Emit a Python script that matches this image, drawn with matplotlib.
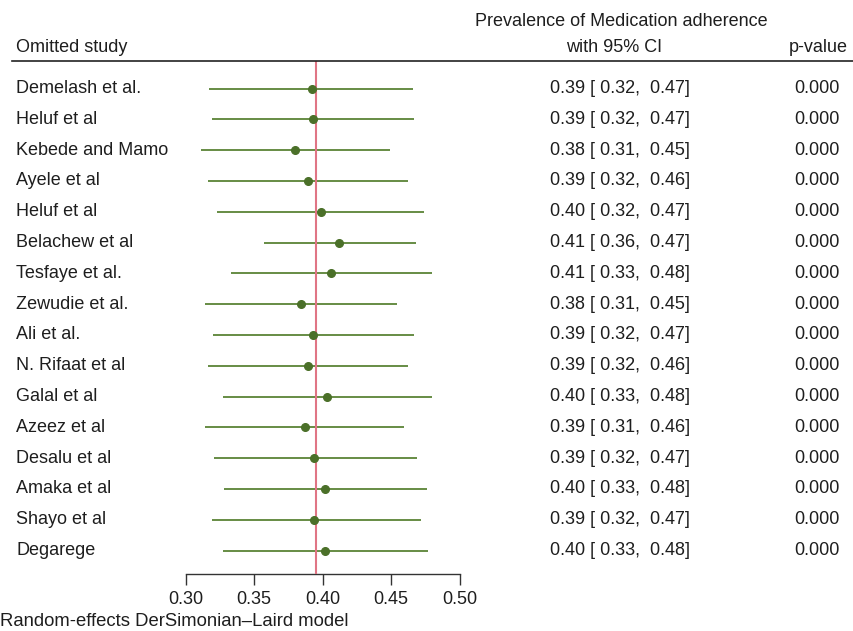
import matplotlib
matplotlib.use("Agg")
import matplotlib.pyplot as plt
import matplotlib.transforms as mtransforms
from matplotlib.lines import Line2D

plt.rcParams['font.family'] = ['Liberation Sans', 'DejaVu Sans']

# leave-one-out estimates
studies = ["Demelash et al.", "Heluf et al", "Kebede and Mamo", "Ayele et al",
           "Heluf et al", "Belachew et al", "Tesfaye et al.", "Zewudie et al.",
           "Ali et al.", "N. Rifaat et al", "Galal et al", "Azeez et al",
           "Desalu et al", "Amaka et al", "Shayo et al", "Degarege"]
est = [0.392, 0.393, 0.380, 0.389, 0.399, 0.412, 0.406, 0.384,
       0.393, 0.389, 0.403, 0.387, 0.394, 0.402, 0.394, 0.402]
lo = [0.317, 0.319, 0.311, 0.316, 0.323, 0.357, 0.333, 0.314,
      0.320, 0.316, 0.327, 0.314, 0.321, 0.328, 0.319, 0.327]
hi = [0.466, 0.467, 0.449, 0.462, 0.474, 0.468, 0.480, 0.454,
      0.467, 0.462, 0.480, 0.459, 0.469, 0.476, 0.472, 0.477]
pvals = [0.000] * 16
overall = 0.395
xticks = [0.30, 0.35, 0.40, 0.45, 0.50]

W, H = 854, 631
fig = plt.figure(figsize=(W / 100, H / 100), dpi=100)
fig.patch.set_facecolor("white")

def fx(px):
    return px / W

def fy(py):
    return 1 - py / H

row0, step = 88.5, 30.8
top_px, bot_px = 61, 574
ax = fig.add_axes([fx(185.7), fy(bot_px), fx(459.7) - fx(185.7), fy(top_px) - fy(bot_px)])
ax.set_xlim(0.30, 0.50)
ax.set_ylim((bot_px - row0) / step, (top_px - row0) / step)

line_c = "#5a8436"
dot_c = "#4b7029"
red_c = "#e07585"
txt_c = "#1e1e1e"
fs = 13

rows = list(range(len(studies)))
ax.hlines(rows, lo, hi, color=line_c, lw=1.3, zorder=2)
ax.axvline(overall, color=red_c, lw=1.5, zorder=3)
ax.plot(est, rows, "o", color=dot_c, ms=5.5, zorder=4)

for s in ["top", "right", "left"]:
    ax.spines[s].set_visible(False)
ax.spines["bottom"].set_color("#333333")
ax.spines["bottom"].set_linewidth(1.0)
ax.set_yticks([])
ax.set_xticks(xticks)
ax.set_xticklabels([f"{t:.2f}" for t in xticks], fontsize=fs, color=txt_c)
ax.tick_params(axis="x", direction="out", length=8, width=1, color="#333333", pad=4)

tr = mtransforms.blended_transform_factory(fig.transFigure, ax.transData)
for i, name in enumerate(studies):
    ax.text(fx(16), i, name, transform=tr, ha="left", va="center", fontsize=fs, color=txt_c)
    ax.text(fx(690), i, f"{est[i]:.2f} [ {lo[i]:.2f},  {hi[i]:.2f}]", transform=tr,
            ha="right", va="center", fontsize=fs, color=txt_c)
    ax.text(fx(840), i, f"{pvals[i]:.3f}", transform=tr, ha="right", va="center",
            fontsize=fs, color=txt_c)

# header
fig.text(fx(16), fy(48), "Omitted study", ha="left", va="center", fontsize=fs, color=txt_c)
fig.text(fx(621), fy(22), "Prevalence of Medication adherence", ha="center", va="center",
         fontsize=fs, color=txt_c)
fig.text(fx(614), fy(48), "with 95% CI", ha="center", va="center", fontsize=fs, color=txt_c)
fig.text(fx(848), fy(48), "p-value", ha="right", va="center", fontsize=fs, color=txt_c)
fig.add_artist(Line2D([fx(12), 1.0], [fy(top_px), fy(top_px)], color="#222222", lw=1.2))

fig.text(fx(0), fy(622), "Random-effects DerSimonian\u2013Laird model", ha="left", va="center",
         fontsize=13.3, color=txt_c)

fig.savefig("out.png", dpi=100)
